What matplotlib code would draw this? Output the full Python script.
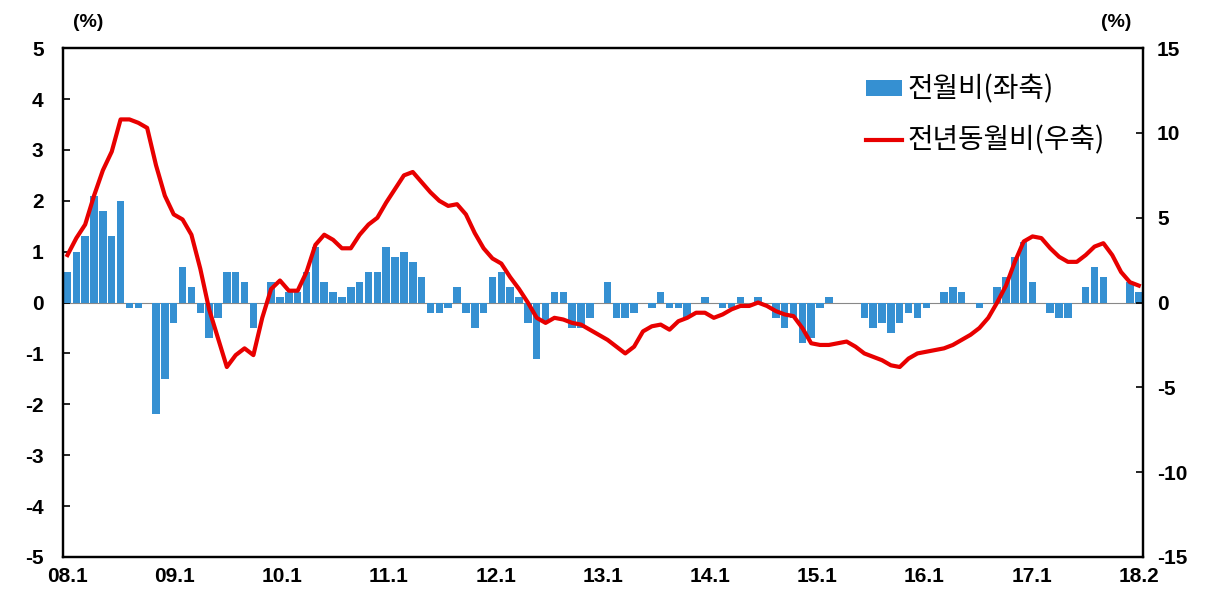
import numpy as np
import matplotlib
matplotlib.use("Agg")
import matplotlib.pyplot as plt
from matplotlib.patches import Patch
from matplotlib.lines import Line2D

plt.rcParams['font.family'] = ['Liberation Sans', 'Noto Sans CJK KR', 'DejaVu Sans']
plt.rcParams['axes.unicode_minus'] = False

# monthly data 2008.1 - 2018.2
mom = [0.6, 1.0, 1.3, 2.1, 1.8, 1.3, 2.0, -0.1, -0.1, 0.0, -2.2, -1.5,
       -0.4, 0.7, 0.3, -0.2, -0.7, -0.3, 0.6, 0.6, 0.4, -0.5, 0.0, 0.4,
       0.1, 0.2, 0.2, 0.6, 1.1, 0.4, 0.2, 0.1, 0.3, 0.4, 0.6, 0.6,
       1.1, 0.9, 1.0, 0.8, 0.5, -0.2, -0.2, -0.1, 0.3, -0.2, -0.5, -0.2,
       0.5, 0.6, 0.3, 0.1, -0.4, -1.1, -0.4, 0.2, 0.2, -0.5, -0.5, -0.3,
       0.0, 0.4, -0.3, -0.3, -0.2, 0.0, -0.1, 0.2, -0.1, -0.1, -0.3, 0.0,
       0.1, 0.0, -0.1, -0.1, 0.1, 0.0, 0.1, 0.0, -0.3, -0.5, -0.3, -0.8,
       -0.7, -0.1, 0.1, 0.0, 0.0, 0.0, -0.3, -0.5, -0.4, -0.6, -0.4, -0.2,
       -0.3, -0.1, 0.0, 0.2, 0.3, 0.2, 0.0, -0.1, 0.0, 0.3, 0.5, 0.9,
       1.2, 0.4, 0.0, -0.2, -0.3, -0.3, 0.0, 0.3, 0.7, 0.5, 0.0, 0.0,
       0.4, 0.2]

yoy = [2.8, 3.8, 4.6, 6.3, 7.8, 8.9, 10.8, 10.8, 10.6, 10.3, 8.1, 6.3,
       5.2, 4.9, 4.0, 2.0, -0.4, -2.1, -3.8, -3.1, -2.7, -3.1, -0.9, 0.8,
       1.3, 0.7, 0.7, 1.8, 3.4, 4.0, 3.7, 3.2, 3.2, 4.0, 4.6, 5.0,
       5.9, 6.7, 7.5, 7.7, 7.1, 6.5, 6.0, 5.7, 5.8, 5.2, 4.1, 3.2,
       2.6, 2.3, 1.5, 0.8, 0.0, -0.9, -1.2, -0.9, -1.0, -1.2, -1.3, -1.6,
       -1.9, -2.2, -2.6, -3.0, -2.6, -1.7, -1.4, -1.3, -1.6, -1.1, -0.9, -0.6,
       -0.6, -0.9, -0.7, -0.4, -0.2, -0.2, 0.0, -0.2, -0.5, -0.7, -0.8, -1.5,
       -2.4, -2.5, -2.5, -2.4, -2.3, -2.6, -3.0, -3.2, -3.4, -3.7, -3.8, -3.3,
       -3.0, -2.9, -2.8, -2.7, -2.5, -2.2, -1.9, -1.5, -0.9, 0.0, 1.0, 2.4,
       3.6, 3.9, 3.8, 3.2, 2.7, 2.4, 2.4, 2.8, 3.3, 3.5, 2.8, 1.8,
       1.2, 1.0]

xlabels = ['08.1', '09.1', '10.1', '11.1', '12.1', '13.1', '14.1',
           '15.1', '16.1', '17.1', '18.2']

bar_color = '#3590D2'
line_color = '#E80000'

x = np.arange(len(mom))

fig = plt.figure(figsize=(12.24, 5.95), dpi=100)
ax = fig.add_axes([0.0515, 0.064, 0.8825, 0.855])
ax2 = ax.twinx()

ax.bar(x, mom, width=0.85, color=bar_color, zorder=2)
ax.axhline(0, color='#888888', lw=0.8, zorder=1)
ax2.plot(x, yoy, color=line_color, lw=3.0, solid_joinstyle='round')

ax.set_xlim(-0.5, len(mom) - 0.5)
ax.set_ylim(-5, 5)
ax.set_yticks(range(-5, 6))
ax2.set_ylim(-15, 15)
ax2.set_yticks(range(-15, 16, 5))

ax.set_xticks(np.linspace(0, len(mom) - 1, len(xlabels)))
ax.set_xticklabels(xlabels)

for a in (ax, ax2):
    for s in a.spines.values():
        s.set_linewidth(1.6)
        s.set_color('black')
ax.tick_params(axis='x', length=0, pad=7, labelsize=15)
ax.tick_params(axis='y', direction='in', length=5, width=1.2, pad=14, labelsize=15)
ax2.tick_params(axis='y', direction='in', length=5, width=1.2, pad=10, labelsize=15)
for lab in ax.get_xticklabels() + ax.get_yticklabels() + ax2.get_yticklabels():
    lab.set_fontweight('bold')

fig.text(0.072, 0.962, '(%)', fontsize=14, fontweight='bold', ha='center', va='center')
fig.text(0.912, 0.962, '(%)', fontsize=14, fontweight='bold', ha='center', va='center')

handles = [Patch(facecolor=bar_color, edgecolor='none'),
           Line2D([0], [0], color=line_color, lw=3.0)]
leg = fig.legend(handles, ['전월비(좌축)', '전년동월비(우축)'],
                 loc='upper left', bbox_to_anchor=(0.689, 0.912), frameon=False,
                 prop={'family': ['Noto Sans CJK KR', 'DejaVu Sans'], 'size': 20},
                 handlelength=1.3, handleheight=0.5, handletextpad=0.2,
                 labelspacing=0.75, borderpad=0.3)

fig.savefig('out.png', dpi=100)
